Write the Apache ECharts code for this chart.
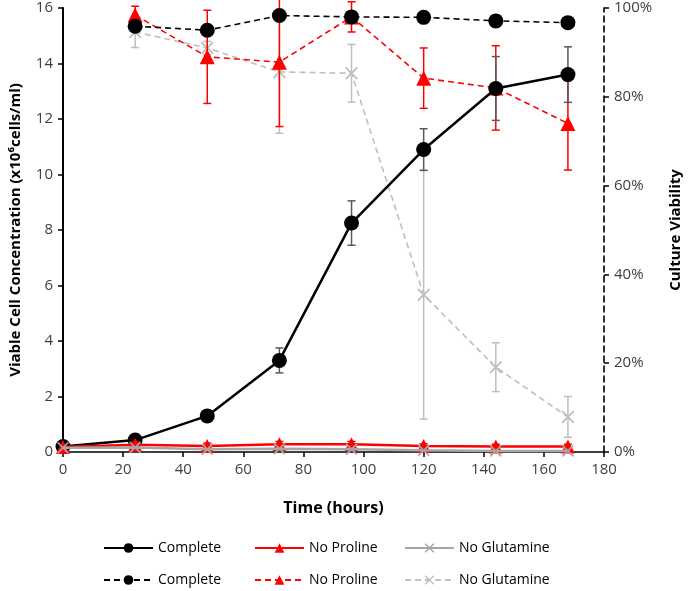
<!DOCTYPE html>
<html>
<head>
<meta charset="utf-8">
<script src="https://cdn.jsdelivr.net/npm/echarts@6/dist/echarts.min.js"></script>
<style>html,body{margin:0;padding:0;background:#fff}#c{width:688px;height:591px}</style>
</head>
<body>
<div id="c"></div>
<script>
const time = [0, 24, 48, 72, 96, 120, 144, 168];
const timeV = [24, 48, 72, 96, 120, 144, 168];
// Viable cell concentration (x10^6 cells/ml)
const vcdComplete = [0.2, 0.43, 1.3, 3.3, 8.25, 10.9, 13.1, 13.6];
const vcdCompleteErr = [0, 0.05, 0.1, 0.45, 0.8, 0.75, 1.15, 1.0];
const vcdNoPro = [0.18, 0.26, 0.22, 0.28, 0.28, 0.22, 0.2, 0.2];
const vcdNoProErr = [0, 0.1, 0.1, 0.1, 0.1, 0.08, 0.08, 0.08];
const vcdNoGln = [0.15, 0.16, 0.1, 0.12, 0.1, 0.06, 0.04, 0.04];
// Culture viability (%)
const viaComplete = [95.9, 95.0, 98.3, 98.0, 97.9, 97.1, 96.7];
const viaCompleteErr = [0.5, 0.5, 0.5, 0.5, 0.5, 0.5, 0.5];
const viaNoPro = [98.4, 89.0, 87.8, 98.0, 84.2, 82.0, 74.0];
const viaNoProErr = [2.0, 10.5, 14.5, 3.4, 6.8, 9.5, 10.5];
const viaNoGln = [94.6, 91.0, 85.6, 85.3, 35.4, 19.1, 7.9];
const viaNoGlnErr = [3.5, 1.5, 13.8, 6.5, 28.0, 5.5, 4.6];
const legendLabels = ['Complete', 'No Proline', 'No Glutamine'];

const X_SYM = 'path://M0,1 L1,0 L5,4 L9,0 L10,1 L6,5 L10,9 L9,10 L5,6 L1,10 L0,9 L4,5 Z';
const FONT = '"Open Sans", sans-serif';

function pairs(xs, ys) { return xs.map((x, i) => [x, ys[i]]); }
function errData(xs, ys, es) { return xs.map((x, i) => [x, ys[i], es[i]]); }

function errSeries(xs, ys, es, color, yAxisIndex, z) {
  return {
    type: 'custom', yAxisIndex: yAxisIndex, z: z, silent: true,
    data: errData(xs, ys, es),
    renderItem: function (params, api) {
      const x = api.value(0), y = api.value(1), e = api.value(2);
      if (!e) return null;
      const top = api.coord([x, y + e]);
      const bot = api.coord([x, y - e]);
      const w = 4;
      const st = { stroke: color, lineWidth: 1.5 };
      return {
        type: 'group',
        children: [
          { type: 'line', shape: { x1: top[0], y1: top[1], x2: bot[0], y2: bot[1] }, style: st },
          { type: 'line', shape: { x1: top[0] - w, y1: top[1], x2: top[0] + w, y2: top[1] }, style: st },
          { type: 'line', shape: { x1: bot[0] - w, y1: bot[1], x2: bot[0] + w, y2: bot[1] }, style: st }
        ]
      };
    }
  };
}

function lineSeries(name, data, color, dashed, symbol, size, yAxisIndex, z) {
  return {
    name: name, type: 'line', yAxisIndex: yAxisIndex, z: z,
    data: data, symbol: symbol, symbolSize: size, showAllSymbol: true,
    lineStyle: { color: color, width: dashed ? 1.6 : 2.5, type: dashed ? [6, 4] : 'solid' },
    itemStyle: { color: color },
    emphasis: { disabled: true }
  };
}

const legendText = { fontFamily: FONT, fontSize: 14, color: '#000' };
const strip = n => n.replace(/ \(.*\)$/, '');
const legendCols = [103, 254, 404];
const legendRows = [541, 573];
const legends = [];
['VCD', 'Viability'].forEach((kind, r) => {
  legendLabels.forEach((lab, c) => {
    legends.push({
      left: legendCols[c], top: legendRows[r], padding: 0, itemWidth: 49, itemHeight: 12,
      data: [lab + ' (' + kind + ')'], formatter: strip, textStyle: legendText, selectedMode: false
    });
  });
});

const option = {
  animation: false,
  grid: { left: 63, right: 84, top: 8, bottom: 139, containLabel: false, outerBoundsMode: 'none' },
  legend: legends,
  xAxis: {
    type: 'value', min: 0, max: 180, interval: 20,
    name: 'Time (hours)', nameLocation: 'middle', nameGap: 48,
    nameTextStyle: { fontFamily: FONT, fontSize: 16, fontWeight: 'bold', color: '#000' },
    axisLine: { onZero: false, lineStyle: { color: '#000', width: 1.5 } },
    axisTick: { show: true, length: 5, lineStyle: { color: '#000', width: 1.5 } },
    axisLabel: { fontFamily: FONT, fontSize: 15, color: '#404040', margin: 10 },
    splitLine: { show: false }
  },
  yAxis: [
    {
      type: 'value', min: 0, max: 16, interval: 2, position: 'left',
      name: 'Viable Cell Concentration (x10\u2076cells/ml)', nameLocation: 'middle', nameGap: 40, nameRotate: 90,
      nameTextStyle: { fontFamily: FONT, fontSize: 15, fontWeight: 'bold', color: '#000' },
      axisLine: { show: true, lineStyle: { color: '#000', width: 2 } },
      axisTick: { show: true, length: 5, lineStyle: { color: '#000', width: 1.5 } },
      axisLabel: { fontFamily: FONT, fontSize: 15, color: '#404040', margin: 10 },
      splitLine: { show: false }
    },
    {
      type: 'value', min: 0, max: 100, interval: 20, position: 'right',
      name: 'Culture Viability', nameLocation: 'middle', nameGap: 64, nameRotate: 90,
      nameTextStyle: { fontFamily: FONT, fontSize: 15, fontWeight: 'bold', color: '#000' },
      axisLine: { show: true, lineStyle: { color: '#000', width: 1.6, type: [6, 4] } },
      axisTick: { show: true, length: 5, lineStyle: { color: '#000', width: 1.5 } },
      axisLabel: { fontFamily: FONT, fontSize: 15, color: '#404040', margin: 10, formatter: '{value}%' },
      splitLine: { show: false }
    }
  ],
  series: [
    errSeries(timeV, viaNoGln, viaNoGlnErr, '#bfbfbf', 1, 1),
    lineSeries('No Glutamine (Viability)', pairs(timeV, viaNoGln), '#bfbfbf', true, X_SYM, 13, 1, 2),
    errSeries(timeV, viaNoPro, viaNoProErr, '#ff0000', 1, 3),
    lineSeries('No Proline (Viability)', pairs(timeV, viaNoPro), '#ff0000', true, 'triangle', 15, 1, 4),
    errSeries(timeV, viaComplete, viaCompleteErr, '#595959', 1, 5),
    lineSeries('Complete (Viability)', pairs(timeV, viaComplete), '#000000', true, 'circle', 15, 1, 6),
    errSeries(time, vcdComplete, vcdCompleteErr, '#595959', 0, 7),
    lineSeries('Complete (VCD)', pairs(time, vcdComplete), '#000000', false, 'circle', 15, 0, 8),
    errSeries(time, vcdNoPro, vcdNoProErr, '#ff0000', 0, 9),
    lineSeries('No Proline (VCD)', pairs(time, vcdNoPro), '#ff0000', false, 'triangle', 14, 0, 10),
    lineSeries('No Glutamine (VCD)', pairs(time, vcdNoGln), '#a6a6a6', false, X_SYM, 12, 0, 11)
  ]
};

const chart = echarts.init(document.getElementById('c'), null, { renderer: 'canvas' });
chart.setOption(option);
</script>
</body>
</html>
